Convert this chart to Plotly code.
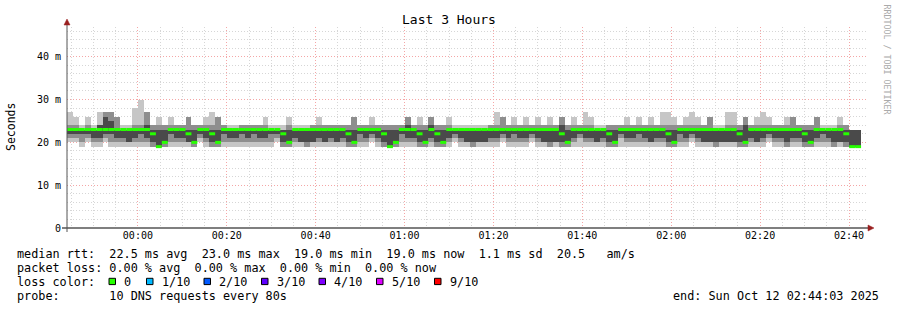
import pandas as pd
import plotly.graph_objects as go

# ---------------- data ----------------
start = pd.Timestamp("2025-10-11 23:44:03")
end = pd.Timestamp("2025-10-12 02:44:03")
step_s = 80

median = [23,23,23,23,23,23,23,23,23,23,
          23,23,23,23,22,19,20,23,23,23,
          22,20,23,23,22,20,23,23,23,23,
          23,23,23,23,23,23,22,20,23,23,
          23,23,23,23,23,23,23,22,20,23,
          23,23,23,22,19,20,23,23,23,22,
          20,23,22,20,23,23,23,23,23,23,
          23,23,23,23,23,23,23,23,23,23,
          23,23,23,22,20,23,23,23,23,23,
          23,22,20,23,23,23,23,23,23,23,
          23,22,20,23,23,23,23,23,23,23,
          23,23,23,22,20,23,23,23,23,23,
          23,23,23,23,22,20,23,23,23,23,
          23,22,19,19]

smoke_max = [27,26,24,26,24,27,27,27,26,24,
             24,28,30,27,24,26,24,26,24,24,
             26,24,24,26,27,26,24,24,24,24,
             24,24,24,26,24,24,24,26,24,24,
             24,24,26,24,24,24,24,24,26,24,
             24,26,24,24,24,24,24,26,24,26,
             24,26,24,24,26,24,24,24,24,24,
             24,24,27,26,24,26,24,26,24,26,
             24,26,24,26,24,26,24,27,26,24,
             24,24,24,24,26,24,26,24,26,24,
             27,27,26,24,26,27,26,24,26,24,
             24,27,27,24,26,24,26,27,26,24,
             24,26,26,24,24,24,26,24,24,24,
             26,24,23,23]

smoke_hi2 = [24,24,23,24,23,24,27,27,26,23,
             23,24,24,27,24,24,24,24,24,24,
             26,24,24,24,24,26,24,23,23,24,
             24,24,24,24,23,23,23,24,23,23,
             23,24,24,24,24,24,24,24,26,24,
             24,24,24,24,24,24,24,26,24,24,
             24,26,24,24,24,23,23,23,23,23,
             23,24,24,26,24,24,24,24,24,24,
             24,24,24,26,24,24,24,24,24,23,
             23,24,24,24,24,24,24,24,24,24,
             24,24,24,24,24,24,24,24,26,23,
             23,24,24,24,26,24,24,24,24,24,
             24,24,26,24,24,24,26,23,23,23,
             24,24,23,23]

smoke_hi3 = [23,23,23,23,23,24,26,25,23,23,
             23,23,23,24,23,23,23,23,23,23,
             23,23,23,23,23,23,23,23,23,23,
             23,23,23,23,23,23,23,23,23,23,
             23,23,23,23,23,23,23,23,23,23,
             23,23,23,23,23,23,23,24,23,23,
             23,24,23,23,23,23,23,23,23,23,
             23,23,23,23,23,23,23,23,23,23,
             23,23,23,24,23,23,23,23,23,23,
             23,23,23,23,23,23,23,23,23,23,
             23,23,23,23,23,23,23,23,23,23,
             23,23,23,23,24,23,23,23,23,23,
             23,23,23,23,23,23,23,23,23,23,
             23,23,23,23]

smoke_lo3 = [22,22,22,22,21,21,22,22,21,21,
             20,21,22,21,20,19,20,22,21,21,
             20,20,22,21,20,20,22,21,21,22,
             21,22,21,21,22,22,20,20,21,20,
             20,20,21,20,21,20,21,20,20,22,
             21,22,21,20,19,20,22,21,21,20,
             20,21,20,20,21,22,21,20,20,20,
             20,21,21,22,21,22,21,21,22,21,
             20,20,20,20,20,21,22,21,21,20,
             21,20,20,22,21,21,22,21,20,21,
             21,20,20,22,21,22,21,20,20,20,
             20,20,20,20,20,21,20,21,22,21,
             21,20,21,21,20,20,21,22,21,20,
             20,20,19,19]

smoke_lo2 = [21,21,20,21,20,20,21,20,20,20,
             20,20,20,20,19,19,19,20,20,20,
             20,19,21,20,19,19,20,20,20,20,
             20,20,20,20,20,21,19,19,20,20,
             19,20,20,20,20,20,20,19,19,20,
             20,21,20,19,19,19,20,20,20,19,
             19,20,19,19,20,21,20,20,19,20,
             20,20,20,21,20,20,20,20,21,20,
             20,19,20,19,19,20,21,20,20,20,
             20,19,19,21,20,20,20,20,20,20,
             20,19,19,20,20,21,20,20,20,19,
             20,20,20,19,19,20,20,20,21,20,
             20,19,20,20,19,19,20,20,20,19,
             20,19,19,19]

smoke_min = [20,20,19,20,19,19,20,19,19,19,
             19,19,19,19,19,19,19,19,19,19,
             19,19,20,19,19,19,19,19,19,19,
             19,19,19,19,19,20,19,19,19,19,
             19,19,19,19,19,19,19,19,19,19,
             19,20,19,19,19,19,19,19,19,19,
             19,19,19,19,19,20,19,19,19,19,
             19,19,19,20,19,19,19,19,20,19,
             19,19,19,19,19,19,19,19,19,19,
             19,19,19,19,19,19,19,19,19,19,
             19,19,19,19,19,20,19,19,19,19,
             19,19,19,19,19,19,19,19,20,19,
             19,19,19,19,19,19,19,19,19,19,
             19,19,19,19]

y_tickvals = [0, 10, 20, 30, 40]
y_ticktext = ["0", "10 m", "20 m", "30 m", "40 m"]

loss_labels = ["0", "1/10", "2/10", "3/10", "4/10", "5/10", "9/10"]
loss_colors = ["#26ff00", "#00b8ff", "#0059ff", "#5e00ff", "#7e00ff", "#dd00ff", "#ff0000"]

line1 = "median rtt:  22.5 ms avg  23.0 ms max  19.0 ms min  19.0 ms now  1.1 ms sd  20.5   am/s"
line2 = "packet loss: 0.00 % avg  0.00 % max  0.00 % min  0.00 % now"
line3 = "loss color:"
line4 = "probe:       10 DNS requests every 80s"
end_text = "end: Sun Oct 12 02:44:03 2025"

# ---------------- figure ----------------
W, H = 897, 310
L, R, T, B = 67, 867, 27, 228
FONT = "DejaVu Sans Mono"

def px(x):
    return (x - L) / (R - L)

def py(y):
    return (B - y) / (B - T)

def nb(s):
    return s.replace(" ", "\u00a0")

n = len(median)
t_start = pd.date_range(start, periods=n, freq=f"{step_s}s")
t_end = t_start + pd.Timedelta(seconds=step_s)
centers = t_start + pd.Timedelta(seconds=step_s / 2)

fig = go.Figure()

bands = [
    (smoke_min, smoke_max, "#c6c6c6"),
    (smoke_lo2, smoke_hi2, "#8e8e8e"),
    (smoke_lo3, smoke_hi3, "#4a4a4a"),
]
for lo, hi, col in bands:
    fig.add_trace(go.Bar(
        x=centers, base=lo, y=[h - l for l, h in zip(lo, hi)],
        width=step_s * 1000, marker=dict(color=col, line=dict(width=0)),
        hoverinfo="skip"))

mx, my = [], []
for a, b, m in zip(t_start, t_end, median):
    mx += [a, b, None]
    my += [m, m, None]
fig.add_trace(go.Scatter(x=mx, y=my, mode="lines",
                         line=dict(color=loss_colors[0], width=3),
                         hoverinfo="skip"))

fig.update_layout(
    width=W, height=H, autosize=False,
    margin=dict(l=L, r=W - R, t=T, b=H - B, pad=0),
    paper_bgcolor="white", plot_bgcolor="white",
    barmode="overlay", bargap=0, showlegend=False,
    font=dict(family=FONT, size=10, color="black"),
)

fig.update_xaxes(
    type="date", range=[start, end],
    tick0="2025-10-12 00:00:00", dtick=20 * 60 * 1000,
    tickformat="%H:%M", ticks="", showline=False, zeroline=False,
    showgrid=True, gridcolor="#f4a6a6", griddash="1px,2px", gridwidth=1,
    tickfont=dict(family=FONT, size=10, color="black"),
    minor=dict(tick0="2025-10-12 00:00:00", dtick=5 * 60 * 1000, showgrid=True,
               gridcolor="#d6d6d6", griddash="1px,2px", gridwidth=1),
)
fig.update_yaxes(
    range=[0, 46.94], tickmode="array", tickvals=y_tickvals, ticktext=y_ticktext,
    ticks="", showline=False, zeroline=False, ticklabelstandoff=5,
    showgrid=True, gridcolor="#f4a6a6", griddash="1px,2px", gridwidth=1,
    tickfont=dict(family=FONT, size=10, color="black"),
    minor=dict(tick0=0, dtick=2, showgrid=True, gridcolor="#d6d6d6",
               griddash="1px,2px", gridwidth=1),
)

shapes = []
# axis lines
shapes.append(dict(type="line", xref="paper", yref="paper",
                   x0=px(62), x1=px(869), y0=py(228), y1=py(228),
                   line=dict(color="black", width=1.2), layer="above"))
shapes.append(dict(type="line", xref="paper", yref="paper",
                   x0=px(67), x1=px(67), y0=py(232), y1=py(23),
                   line=dict(color="#555555", width=1), layer="above"))
# arrows
shapes.append(dict(type="path", xref="paper", yref="paper", layer="above",
                   path=f"M {px(64)} {py(25)} L {px(70)} {py(25)} L {px(67)} {py(19)} Z",
                   fillcolor="#9a2020", line=dict(color="#9a2020", width=0.5)))
shapes.append(dict(type="path", xref="paper", yref="paper", layer="above",
                   path=f"M {px(868)} {py(225)} L {px(868)} {py(231)} L {px(874)} {py(228)} Z",
                   fillcolor="#9a2020", line=dict(color="#9a2020", width=0.5)))
# loss colour legend squares
sq_x = [109, 146.5, 204, 261.5, 319, 376.5, 434.5]
lbl_x = [123, 160.5, 218, 275.5, 333, 390.5, 448.5]
for sx, col in zip(sq_x, loss_colors):
    shapes.append(dict(type="rect", xref="paper", yref="paper",
                       x0=px(sx), x1=px(sx + 6.5), y0=py(278.3), y1=py(284.6),
                       fillcolor=col, line=dict(color="black", width=1)))
fig.update_layout(shapes=shapes)

ann = []
def text(x, y, s, size=11.8, anchor="left", color="black", angle=0):
    ann.append(dict(x=px(x), y=py(y), xref="paper", yref="paper", text=nb(s),
                    showarrow=False, xanchor=anchor, yanchor="middle",
                    borderpad=0, textangle=angle,
                    font=dict(family=FONT, size=size, color=color)))

text(448.5, 19.5, "Last 3 Hours", size=13, anchor="center")
text(11, 127, "Seconds", size=11.5, anchor="center", angle=-90)
text(887, 59.5, "RRDTOOL / TOBI OETIKER", size=8.3, anchor="center", color="#aaaaaa", angle=90)
text(16, 254.3, line1)
text(16, 268.3, line2)
text(16, 282.3, line3)
for lx, lab in zip(lbl_x, loss_labels):
    text(lx, 282.3, lab)
text(16, 296.3, line4)
text(880, 296.3, end_text, anchor="right")
fig.update_layout(annotations=ann)

fig.write_html("out.html")
